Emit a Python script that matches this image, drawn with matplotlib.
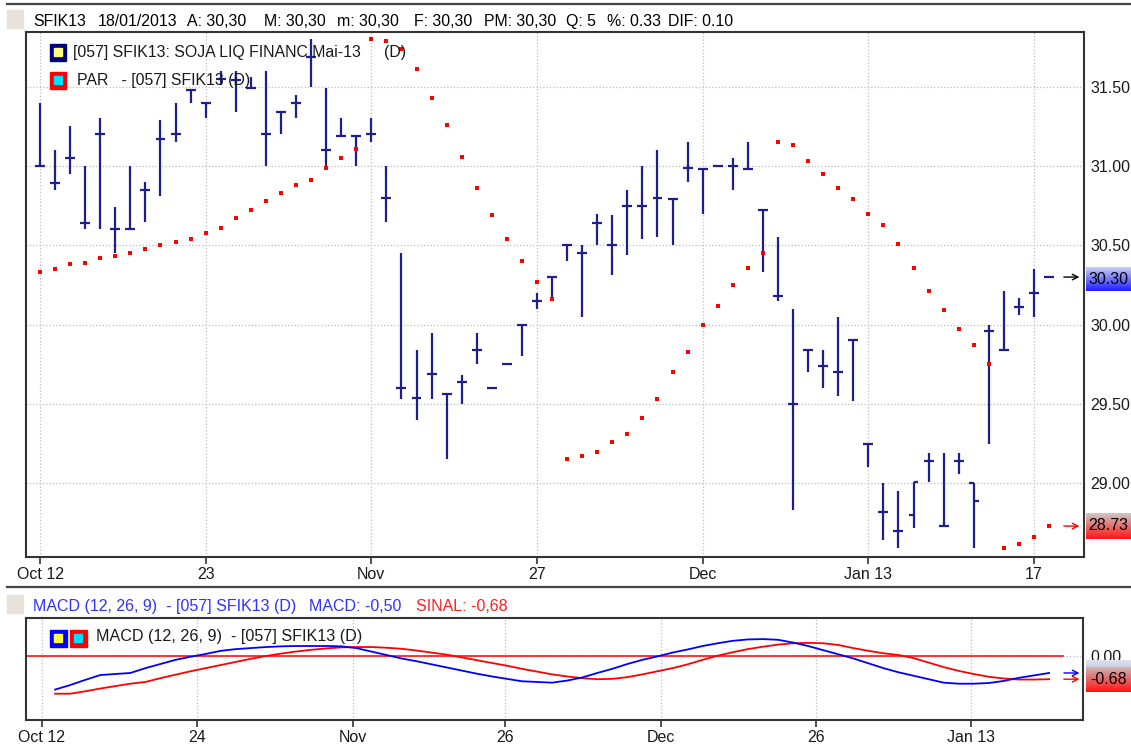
import numpy as np
import matplotlib.pyplot as plt
from matplotlib.patches import Rectangle
from matplotlib.lines import Line2D

plt.rcParams['font.family'] = ['Liberation Sans', 'DejaVu Sans']

# --- DADOS: SFIK13 diário (abertura, máxima, mínima, fechamento) ---
opens = [31.00, 30.89, 31.05, 30.64, 31.20, 30.60, 30.60, 30.85, 31.17, 31.20,
         31.48, 31.40, 31.55, 31.54, 31.49, 31.20, 31.34, 31.40, 31.69, 31.10,
         31.19, 31.19, 31.20, 30.80, 29.60, 29.54, 29.69, 29.56, 29.64, 29.84,
         29.60, 29.75, 30.00, 30.15, 30.30, 30.50, 30.45, 30.64, 30.50, 30.75,
         30.75, 30.80, 30.79, 30.99, 30.98, 31.00, 31.00, 30.98, 30.72, 30.18,
         29.50, 29.84, 29.74, 29.70, 29.90, 29.25, 28.82, 28.70, 28.80, 29.14,
         28.73, 29.14, 29.00, 29.96, 29.84, 30.11, 30.20, 30.30]
highs = [31.40, 31.10, 31.25, 31.00, 31.30, 30.74, 31.00, 30.90, 31.29, 31.40,
         31.48, 31.40, 31.60, 31.60, 31.56, 31.60, 31.34, 31.45, 31.80, 31.49,
         31.30, 31.19, 31.30, 31.00, 30.45, 29.84, 29.95, 29.56, 29.68, 29.95,
         29.60, 29.75, 30.00, 30.20, 30.30, 30.50, 30.50, 30.70, 30.69, 30.85,
         31.00, 31.10, 30.79, 31.15, 30.98, 31.00, 31.05, 31.15, 30.72, 30.55,
         30.10, 29.84, 29.84, 30.05, 29.90, 29.25, 29.00, 28.95, 29.01, 29.19,
         29.19, 29.19, 29.00, 30.00, 30.21, 30.17, 30.35, 30.30]
lows = [31.00, 30.85, 30.95, 30.60, 30.60, 30.45, 30.60, 30.65, 30.81, 31.15,
        31.40, 31.30, 31.51, 31.34, 31.49, 31.00, 31.20, 31.30, 31.50, 31.00,
        31.19, 31.00, 31.15, 30.65, 29.53, 29.40, 29.53, 29.15, 29.50, 29.75,
        29.60, 29.75, 29.80, 30.10, 30.16, 30.40, 30.05, 30.50, 30.31, 30.44,
        30.54, 30.55, 30.50, 30.90, 30.70, 31.00, 30.85, 30.98, 30.33, 30.15,
        28.83, 29.70, 29.60, 29.55, 29.52, 29.10, 28.64, 28.59, 28.72, 29.01,
        28.73, 29.06, 28.59, 29.25, 29.84, 30.06, 30.05, 30.30]
closes = [31.00, 30.89, 31.05, 30.64, 31.20, 30.60, 30.60, 30.85, 31.17, 31.20,
          31.48, 31.40, 31.55, 31.54, 31.49, 31.20, 31.34, 31.40, 31.69, 31.10,
          31.19, 31.19, 31.20, 30.80, 29.60, 29.54, 29.69, 29.56, 29.64, 29.84,
          29.60, 29.75, 30.00, 30.15, 30.30, 30.50, 30.45, 30.64, 30.50, 30.75,
          30.75, 30.80, 30.79, 30.99, 30.98, 31.00, 31.00, 30.98, 30.72, 30.18,
          29.50, 29.84, 29.74, 29.70, 29.90, 29.25, 28.82, 28.70, 29.01, 29.14,
          28.73, 29.14, 28.89, 29.96, 29.84, 30.11, 30.20, 30.30]

# Parabolic SAR ("PAR"), um ponto por pregão
par_sar = [30.33, 30.35, 30.38, 30.39, 30.42, 30.43, 30.45, 30.48, 30.50, 30.52,
           30.54, 30.58, 30.61, 30.67, 30.72, 30.78, 30.83, 30.88, 30.91, 30.99,
           31.05, 31.11, 31.80, 31.79, 31.74, 31.61, 31.43, 31.26, 31.06, 30.86,
           30.69, 30.54, 30.40, 30.27, 30.16, 29.15, 29.17, 29.20, 29.26, 29.31,
           29.41, 29.53, 29.70, 29.83, 30.00, 30.12, 30.25, 30.36, 30.45, 31.15,
           31.13, 31.03, 30.95, 30.86, 30.79, 30.70, 30.63, 30.51, 30.36, 30.21,
           30.09, 29.97, 29.87, 29.75, 28.59, 28.62, 28.66, 28.73]

# MACD (12, 26, 9): começa no 2º pregão
macd_line = [-0.98, -0.85, -0.70, -0.56, -0.53, -0.50, -0.36, -0.24, -0.12, -0.03,
             0.05, 0.14, 0.19, 0.22, 0.25, 0.27, 0.28, 0.28, 0.28, 0.27,
             0.22, 0.12, 0.02, -0.08, -0.16, -0.25, -0.34, -0.43, -0.52, -0.60,
             -0.67, -0.74, -0.76, -0.78, -0.72, -0.63, -0.50, -0.38, -0.24, -0.12,
             -0.02, 0.09, 0.18, 0.28, 0.36, 0.43, 0.47, 0.48, 0.46, 0.38,
             0.28, 0.16, 0.04, -0.08, -0.22, -0.36, -0.48, -0.58, -0.68, -0.78,
             -0.81, -0.81, -0.79, -0.73, -0.64, -0.57, -0.50]
macd_signal = [-1.10, -1.10, -1.03, -0.95, -0.88, -0.81, -0.76, -0.65, -0.55, -0.45,
               -0.36, -0.27, -0.18, -0.09, -0.01, 0.06, 0.12, 0.17, 0.21, 0.24,
               0.25, 0.25, 0.23, 0.20, 0.15, 0.09, 0.03, -0.05, -0.13, -0.21,
               -0.29, -0.38, -0.46, -0.54, -0.60, -0.65, -0.68, -0.67, -0.62, -0.54,
               -0.45, -0.36, -0.25, -0.12, 0.00, 0.10, 0.19, 0.26, 0.32, 0.36,
               0.37, 0.36, 0.31, 0.22, 0.14, 0.07, 0.02, -0.07, -0.20, -0.33,
               -0.44, -0.53, -0.61, -0.66, -0.69, -0.69, -0.68]

price_ticks = [29.0, 29.5, 30.0, 30.5, 31.0, 31.5]
date_ticks = [0, 11, 22, 33, 44, 55, 66]
date_labels = ["Oct 12", "23", "Nov", "27", "Dec", "Jan 13", "17"]
macd_tick_pos = [0.1, 10.4, 20.8, 30.9, 41.2, 51.5, 61.8]
macd_tick_labels = ["Oct 12", "24", "Nov", "26", "Dec", "26", "Jan 13"]

# campos do cabeçalho (texto, x em pixels)
header_fields = [("SFIK13", 33), ("18/01/2013", 98), ("A: 30,30", 187),
                 ("M: 30,30", 264), ("m: 30,30", 337), ("F: 30,30", 414),
                 ("PM: 30,30", 484), ("Q: 5", 566), ("%: 0.33", 607),
                 ("DIF: 0.10", 668)]

# --- CONFIGURAÇÃO ---
W, H = 1131, 749
bar_color = "#1E1E8E"
grid_color = "#BDBDBD"
frame_color = "#333333"
txt = "#1A1A1A"
FS = 11.5


def fx(px):
    return px / W


def fy(py):
    return 1 - py / H


def fig_rect(x0, y0, w, h, color):
    # retângulo em pixels (x0, y0 = canto superior esquerdo)
    fig.add_artist(Rectangle((fx(x0), fy(y0 + h)), w / W, h / H, color=color,
                             transform=fig.transFigure))


fig = plt.figure(figsize=(W / 100, H / 100), dpi=100)
fig.patch.set_facecolor("white")

# linhas separadoras e quadradinhos do cabeçalho
fig.add_artist(Line2D([fx(7), 1], [fy(3.5), fy(3.5)], color="#444444", lw=1.6))
fig.add_artist(Line2D([fx(7), 1], [fy(587), fy(587)], color="#444444", lw=1.6))
fig_rect(7, 10, 16, 18, "#E9E2DA")
fig_rect(7, 595, 16, 18, "#E9E2DA")

for label, px in header_fields:
    fig.text(fx(px), fy(21.5), label, fontsize=11.4, va="center", color="black")

# ---------------- PAINEL PRINCIPAL ----------------
ax = fig.add_axes([fx(26), fy(557), fx(1084) - fx(26), (557 - 32) / H])
x = np.arange(len(closes))
tick_w = 0.33

ax.vlines(x, lows, highs, color=bar_color, lw=1.6, zorder=3)
ax.hlines(opens, x - tick_w, x, color=bar_color, lw=1.6, zorder=3)
ax.hlines(closes, x, x + tick_w, color=bar_color, lw=1.6, zorder=3)
ax.plot(x, par_sar, linestyle="none", marker="s", ms=2.6, mew=0,
        color="red", zorder=4)

ax.set_xlim(-0.93, 69.32)
ax.set_ylim(28.535, 31.845)
ax.set_xticks(date_ticks)
ax.set_xticklabels(date_labels)
ax.set_yticks(price_ticks)
ax.set_yticklabels([f"{v:.2f}" for v in price_ticks])
ax.yaxis.tick_right()
ax.tick_params(axis="x", length=5, width=1.2, color=frame_color, pad=2,
               labelsize=FS, labelcolor=txt)
ax.tick_params(axis="y", length=0, pad=4.5, labelsize=FS, labelcolor=txt)
ax.grid(True, linestyle=":", color=grid_color, lw=0.9)
ax.set_axisbelow(True)
for s in ax.spines.values():
    s.set_color(frame_color)
    s.set_linewidth(1.5)

# legenda manual
fig_rect(50, 44, 16, 17, "#00007A")
fig_rect(54, 48, 8, 8, "#FFFF80")
fig_rect(50, 72, 16, 17, "#FF0000")
fig_rect(54, 76, 8, 8, "#00E0FF")
fig.text(fx(73), fy(52), "[057] SFIK13: SOJA LIQ FINANC Mai-13", fontsize=11.4,
         va="center", color=txt, zorder=1)
fig.text(fx(384), fy(52), "(D)", fontsize=11.4, va="center", color=txt, zorder=1)
fig.text(fx(77), fy(80), "PAR   - [057] SFIK13 (D)", fontsize=11.4,
         va="center", color=txt, zorder=1)

# setas do último valor
ax.annotate("", xy=(69.2, closes[-1]), xytext=(67.8, closes[-1]),
            arrowprops=dict(arrowstyle="->", color="black", lw=1.0))
ax.annotate("", xy=(69.2, par_sar[-1]), xytext=(67.8, par_sar[-1]),
            arrowprops=dict(arrowstyle="->", color="red", lw=1.0))


def value_box(y_top, y_bot, top_rgb, bot_rgb, text):
    bax = fig.add_axes([fx(1086), fy(y_bot), fx(1131) - fx(1086),
                        (y_bot - y_top) / H])
    g = np.linspace(0, 1, 32).reshape(-1, 1, 1)
    img = (1 - g) * np.array(top_rgb) + g * np.array(bot_rgb)
    bax.imshow(img, aspect="auto", extent=(0, 1, 0, 1))
    bax.axis("off")
    if text:
        bax.text(0.5, 0.5, text, ha="center", va="center", fontsize=FS,
                 color="black")


value_box(267, 291, (0.82, 0.84, 0.97), (0.12, 0.12, 1.0), f"{closes[-1]:.2f}")
value_box(513, 539, (0.80, 0.78, 0.78), (1.0, 0.08, 0.08), f"{par_sar[-1]:.2f}")

# ---------------- PAINEL MACD ----------------
fig.text(fx(33), fy(606.5), "MACD (12, 26, 9)  - [057] SFIK13 (D)",
         fontsize=11.5, va="center", color="#3030FF")
fig.text(fx(309), fy(606.5), "MACD: -0,50", fontsize=11.5, va="center",
         color="#3030FF")
fig.text(fx(416), fy(606.5), "SINAL: -0,68", fontsize=11.5, va="center",
         color="#FF2020")

axm = fig.add_axes([fx(26), fy(720), fx(1083) - fx(26), (720 - 618) / H])
xm = np.arange(1, len(macd_line) + 1)
axm.set_xlim(-0.93, 69.25)
axm.set_ylim(-1.86, 1.09)
axm.axhline(0, color=grid_color, linestyle=":", lw=0.9, zorder=1)
axm.plot([-0.93, 67.9], [0, 0], color="red", lw=1.1, zorder=2)
axm.plot(xm, macd_signal, color="red", lw=1.3, zorder=3)
axm.plot(xm, macd_line, color="blue", lw=1.3, zorder=4)
axm.set_xticks(macd_tick_pos)
axm.set_xticklabels(macd_tick_labels)
axm.set_yticks([0.0])
axm.set_yticklabels(["0.00"])
axm.yaxis.tick_right()
axm.tick_params(axis="x", length=5, width=1.2, color=frame_color, pad=2,
                labelsize=FS, labelcolor=txt)
axm.tick_params(axis="y", length=0, pad=5, labelsize=FS, labelcolor=txt)
axm.grid(True, axis="x", linestyle=":", color=grid_color, lw=0.9)
axm.set_axisbelow(True)
for s in axm.spines.values():
    s.set_color(frame_color)
    s.set_linewidth(1.5)

fig_rect(50, 630, 17, 17, "#0000FF")
fig_rect(54, 634, 8, 8, "#FFFF40")
fig_rect(70, 630, 17, 17, "#FF0000")
fig_rect(74, 634, 8, 8, "#00E0FF")
fig.text(fx(96), fy(637), "MACD (12, 26, 9)  - [057] SFIK13 (D)", fontsize=11.6,
         va="center", color=txt)

axm.annotate("", xy=(69.2, macd_line[-1]), xytext=(67.8, macd_line[-1]),
             arrowprops=dict(arrowstyle="->", color="blue", lw=1.0))
axm.annotate("", xy=(69.2, macd_signal[-1]), xytext=(67.8, macd_signal[-1]),
             arrowprops=dict(arrowstyle="->", color="red", lw=1.0))

value_box(660, 684, (0.88, 0.88, 0.92), (0.62, 0.62, 0.85), "")
value_box(667, 692, (0.82, 0.70, 0.70), (1.0, 0.08, 0.08),
          f"{macd_signal[-1]:.2f}")

fig.savefig("out.png", dpi=100)
